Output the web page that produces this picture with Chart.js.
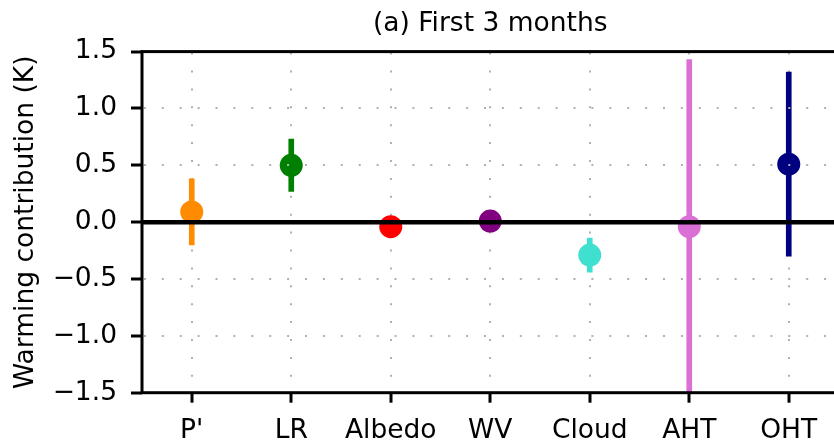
<!DOCTYPE html>
<html lang="en">
<head>
    <meta charset="UTF-8">
    <title>Warming contribution - first 3 months</title>
    <script src="https://cdn.jsdelivr.net/npm/chart.js"></script>
    <style>
        html, body { margin: 0; padding: 0; overflow: hidden; background: #fff; }
        .chart-box { width: 850px; height: 441px; }
    </style>
</head>
<body>
    <div class="chart-box"><canvas id="chart"></canvas></div>

    <script>
        const categories = ["P'", 'LR', 'Albedo', 'WV', 'Cloud', 'AHT', 'OHT'];
        const means = [0.09, 0.50, -0.04, 0.01, -0.29, -0.04, 0.51];
        const errors = [0.29, 0.23, 0.04, 0.03, 0.15, 1.47, 0.81];
        const yTicks = [-1.5, -1.0, -0.5, 0.0, 0.5, 1.0, 1.5];
        const colors = ['#ff8c00', '#008000', '#ff0000', '#800080', '#40e0d0', '#da70d6', '#000080'];

        Chart.defaults.font.family = "'DejaVu Sans', sans-serif";
        Chart.defaults.font.size = 26.5;
        Chart.defaults.color = '#000';

        // zero line and the box around the axes, drawn over everything
        const framePlugin = {
            id: 'frame',
            afterDraw(chart) {
                const { ctx, chartArea: a, scales: { y } } = chart;
                const zero = y.getPixelForValue(0);
                ctx.save();
                ctx.strokeStyle = '#000';
                ctx.lineWidth = 4.5;
                ctx.beginPath();
                ctx.moveTo(a.left, zero);
                ctx.lineTo(a.right, zero);
                ctx.stroke();
                ctx.lineWidth = 3;
                ctx.strokeRect(a.left, a.top, a.right - a.left, a.bottom - a.top);
                ctx.restore();
            }
        };

        const gridBase = {
            color: '#b0b0b0',
            lineWidth: 2,
            drawTicks: true,
            tickColor: '#000',
            tickWidth: 3,
            tickBorderDash: []
        };

        new Chart(document.getElementById('chart'), {
            data: {
                labels: categories,
                datasets: [{
                    type: 'bar',
                    data: means.map((m, i) => [m - errors[i], m + errors[i]]),
                    backgroundColor: colors,
                    borderWidth: 0,
                    borderSkipped: false,
                    barThickness: 5,
                    order: 0
                }, {
                    type: 'line',
                    data: means,
                    showLine: false,
                    pointRadius: 11.5,
                    pointHoverRadius: 11.5,
                    pointBorderWidth: 0,
                    pointBackgroundColor: colors,
                    order: 1
                }]
            },
            options: {
                responsive: true,
                maintainAspectRatio: false,
                animation: false,
                layout: { padding: { left: 0, right: 11, top: 0, bottom: 0 } },
                plugins: {
                    legend: { display: false },
                    tooltip: { enabled: false },
                    title: {
                        display: true,
                        text: '(a) First 3 months',
                        fullSize: false,
                        color: '#000',
                        font: { size: 26.5, weight: 'normal' },
                        padding: { top: 7.9, bottom: 11.9 }
                    }
                },
                scales: {
                    x: {
                        offset: true,
                        grid: { ...gridBase, z: 0, offset: false, tickLength: 10 },
                        border: { display: false, dash: [2, 15.9], dashOffset: -1 },
                        ticks: { padding: 13, maxRotation: 0, autoSkip: false },
                        afterFit(scale) { scale.height = 48.3; }
                    },
                    y: {
                        min: -1.5,
                        max: 1.5,
                        grid: { ...gridBase, z: 1, tickLength: 11 },
                        border: { display: false, dash: [2, 15.9], dashOffset: 16 },
                        afterBuildTicks(scale) { scale.ticks = yTicks.map(v => ({ value: v })); },
                        ticks: {
                            padding: 14,
                            callback: v => (v < 0 ? '\u2212' : '') + Math.abs(v).toFixed(1)
                        },
                        title: {
                            display: true,
                            text: 'Warming contribution (K)',
                            font: { size: 26.5 },
                            padding: { top: 10, bottom: 0 }
                        },
                        afterFit(scale) { scale.width = 142; }
                    }
                }
            },
            plugins: [framePlugin]
        });
    </script>
</body>
</html>
